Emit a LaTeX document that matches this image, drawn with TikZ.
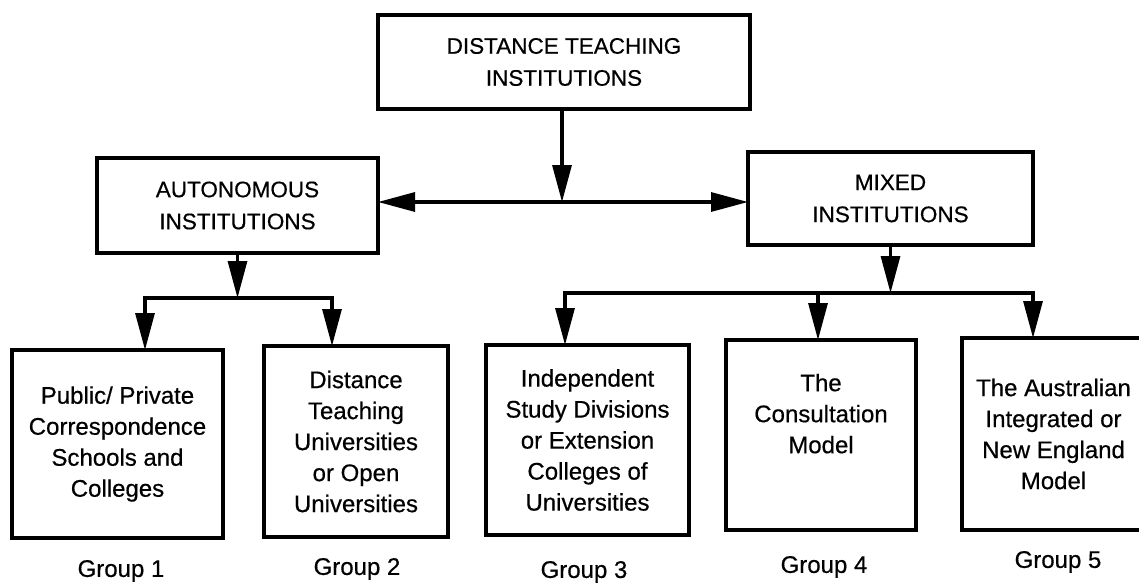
\documentclass[tikz,border=0pt]{standalone}
\usepackage{fontspec}
\setmainfont{Liberation Sans}[UprightFeatures={FakeBold=0.5}]
\usetikzlibrary{arrows.meta}
\begin{document}
\begin{tikzpicture}[x=1pt,y=-1pt,
  line width=3.2pt,
  box/.style={draw, rectangle, outer sep=0pt, inner sep=2pt, align=center},
  capsbox/.style={box, font=\fontsize{22.5}{32}\selectfont},
  textbox/.style={box, font=\fontsize{24}{31}\selectfont},
  grouplabel/.style={font=\fontsize{24}{28}\selectfont, inner sep=0pt},
  tip/.style={-{Triangle[length=37pt,width=19pt]}},
  twotips/.style={{Triangle[length=37pt,width=19pt]}-{Triangle[length=37pt,width=19pt]}}]
\useasboundingbox (0,0) rectangle (1139,583);
\begin{scope}
\clip (0,0) rectangle (1139,583);

% top level
\node[capsbox, minimum width=372pt, minimum height=94pt] (top) at (564,62)
  {DISTANCE TEACHING\\INSTITUTIONS};

% second level
\node[capsbox, minimum width=281pt, minimum height=95pt] (auto) at (237.5,205.5)
  {AUTONOMOUS\\INSTITUTIONS};
\node[capsbox, minimum width=285pt, minimum height=93pt] (mixed) at (890.5,198.5)
  {MIXED\\INSTITUTIONS};

% the five groups
\node[textbox, minimum width=211pt, minimum height=188pt] (b1) at (117.5,444)
  {Public/ Private\\Correspondence\\Schools and\\Colleges};
\node[textbox, minimum width=184pt, minimum height=191pt] (b2) at (356,441.5)
  {Distance\\Teaching\\Universities\\or Open\\Universities};
\node[textbox, minimum width=203pt, minimum height=190pt] (b3) at (587.5,440)
  {Independent\\Study Divisions\\or Extension\\Colleges of\\Universities};
\node[textbox, minimum width=190pt, minimum height=190pt] (b4) at (821,435)
  {The\\Consultation\\Model\\[12pt]};
\node[textbox, minimum width=183pt, minimum height=192pt] (b5) at (1053.5,434)
  {The Australian\\Integrated or\\New England\\Model};

\node[grouplabel] (g1) at (121,571) {Group 1};
\node[grouplabel] (g2) at (357,569) {Group 2};
\node[grouplabel] (g3) at (584,572) {Group 3};
\node[grouplabel] (g4) at (824,567) {Group 4};
\node[grouplabel] (g5) at (1058,562) {Group 5};

% junction points
\coordinate (mid) at (562,202);
\coordinate (al) at (145,298);
\coordinate (ar) at (332,298);
\coordinate (ml) at (565,293);
\coordinate (mm) at (818,293);
\coordinate (mr) at (1033,293);

% connectors
\draw[tip] (top.south -| mid) -- (mid);
\draw[twotips] (auto.east |- mid) -- (mixed.west |- mid);

\draw[tip] (auto.south) -- (auto.south |- al);
\draw[twotips] (al |- b1.north) -- (al) -- (ar) -- (ar |- b2.north);

\draw[tip] (mixed.south) -- (mixed.south |- ml);
\draw[twotips] (ml |- b3.north) -- (ml) -- (mr) -- (mr |- b5.north);
\draw[tip] (mm) -- (mm |- b4.north);
\end{scope}
\end{tikzpicture}
\end{document}
